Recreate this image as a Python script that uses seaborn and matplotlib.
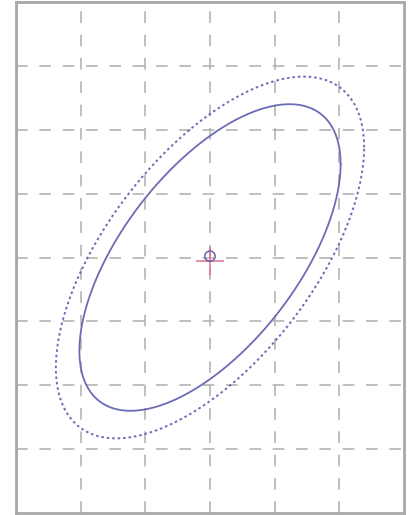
import numpy as np
import pandas as pd
import matplotlib
matplotlib.use("Agg")
import matplotlib.pyplot as plt
import seaborn as sns

# ellipse parameters
center = [0.0, 0.0]
cov_xx = 4.08
cov_yy = 5.76
cov_xy = 2.95
levels = [1.0, 1.18]
level_styles = ["solid", "dotted"]
circle_pos = [0.0, 0.02]
plus_pos = [0.0, -0.06]

x_ticks = [-2, -1, 0, 1, 2]
y_ticks = [-3, -2, -1, 0, 1, 2, 3]

sns.set_style("white")

cov = np.array([[cov_xx, cov_xy], [cov_xy, cov_yy]])
L = np.linalg.cholesky(cov)
t = np.linspace(0, 2 * np.pi, 400)
unit = np.vstack([np.cos(t), np.sin(t)])

frames = []
for lev, style in zip(levels, level_styles):
    pts = L @ unit * lev
    frames.append(pd.DataFrame({"x": pts[0] + center[0], "y": pts[1] + center[1],
                                "t": t, "style": style}))
df = pd.concat(frames, ignore_index=True)

fig = plt.figure(figsize=(4.18, 5.15), dpi=100)
ax = fig.add_axes([16 / 418, 2 / 515, 388 / 418, 511 / 515])

line_col = "#6c6cb6"
for style, sub in df.groupby("style"):
    if style == "solid":
        sns.lineplot(data=sub, x="x", y="y", sort=False, ax=ax, color=line_col,
                     lw=1.3, estimator=None)
    else:
        sns.lineplot(data=sub, x="x", y="y", sort=False, ax=ax, color=line_col,
                     lw=1.4, estimator=None, linestyle=(0, (1.3, 1.5)))

sns.scatterplot(x=[plus_pos[0]], y=[plus_pos[1]], ax=ax, marker="+", s=400,
                color="#e0708e", linewidth=1.1, zorder=4)
sns.scatterplot(x=[circle_pos[0]], y=[circle_pos[1]], ax=ax, marker="o", s=55,
                facecolor="none", edgecolor="#6464aa", linewidth=1.1, zorder=5)

ax.set_xlim(-3, 3)
ax.set_ylim(-4, 4)
ax.set_xticks(x_ticks)
ax.set_yticks(y_ticks)
ax.set_xticklabels([])
ax.set_yticklabels([])
ax.tick_params(length=0)
ax.grid(True, color="#b4b4b4", linestyle=(0, (7, 7)), lw=1.2)
ax.set_xlabel("")
ax.set_ylabel("")
for sp in ax.spines.values():
    sp.set_color("#a8a8a8")
    sp.set_linewidth(2)

fig.savefig("out.png", dpi=100)
